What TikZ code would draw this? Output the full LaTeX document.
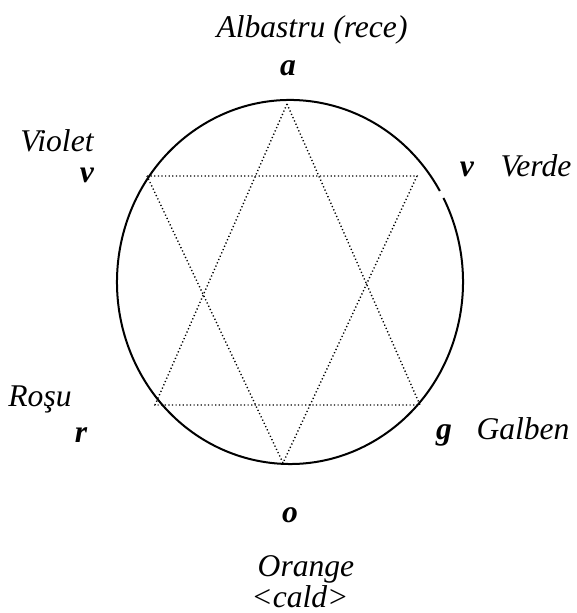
\documentclass[tikz,border=0pt]{standalone}
\usepackage{fontspec}
\setmainfont{Liberation Serif}
\usepackage{tikz}
\usetikzlibrary{calc, positioning}

\begin{document}
\begin{tikzpicture}[x=0.5pt, y=0.5pt,
    eticheta/.style={anchor=base, inner sep=0pt, font=\fontsize{15.8}{18}\selectfont\itshape},
    litera/.style={anchor=base, inner sep=0pt, font=\fontsize{15.8}{18}\selectfont\bfseries\itshape},
    punctat/.style={line width=0.7pt, dash pattern=on 0.6pt off 1.2pt}]
    \useasboundingbox (0,0) rectangle (576,613);

    % Cercul culorilor
    \coordinate (C) at (290,331);
    \draw[line width=1pt] (C) ++(30:86.5pt and 91pt)
        arc[start angle=30, end angle=387.5, x radius=86.5pt, y radius=91pt];

    % Varfurile stelei
    \coordinate (A) at (287,509);
    \coordinate (R) at (155,208);
    \coordinate (G) at (420,208);
    \coordinate (V1) at (147,437);
    \coordinate (V2) at (417,437);
    \coordinate (O) at (283,150);

    \draw[punctat] (A) -- (R) -- (G) -- cycle;
    \draw[punctat] (V1) -- (V2) -- (O) -- cycle;

    % Etichete
    \node[eticheta] (albastru) at (312,575) {Albastru (rece)};
    \node[litera] (la) at (288,537) {a};
    \node[eticheta] (violet) at (57,461) {Violet};
    \node[litera] (lv1) at (87,430) {v};
    \node[litera] (lv2) at (467,436) {v};
    \node[eticheta] (verde) at (536,436) {Verde};
    \node[eticheta] (rosu) at (40,206) {Roşu};
    \node[litera] (lr) at (81,170) {r};
    \node[litera] (lg) at (444,173) {g};
    \node[eticheta] (galben) at (523,173) {Galben};
    \node[litera] (lo) at (290,90) {o};
    \node[eticheta] (orange) at (306,36) {Orange};
    \node[eticheta] (cald) at (300,5) {<cald>};
\end{tikzpicture}
\end{document}
